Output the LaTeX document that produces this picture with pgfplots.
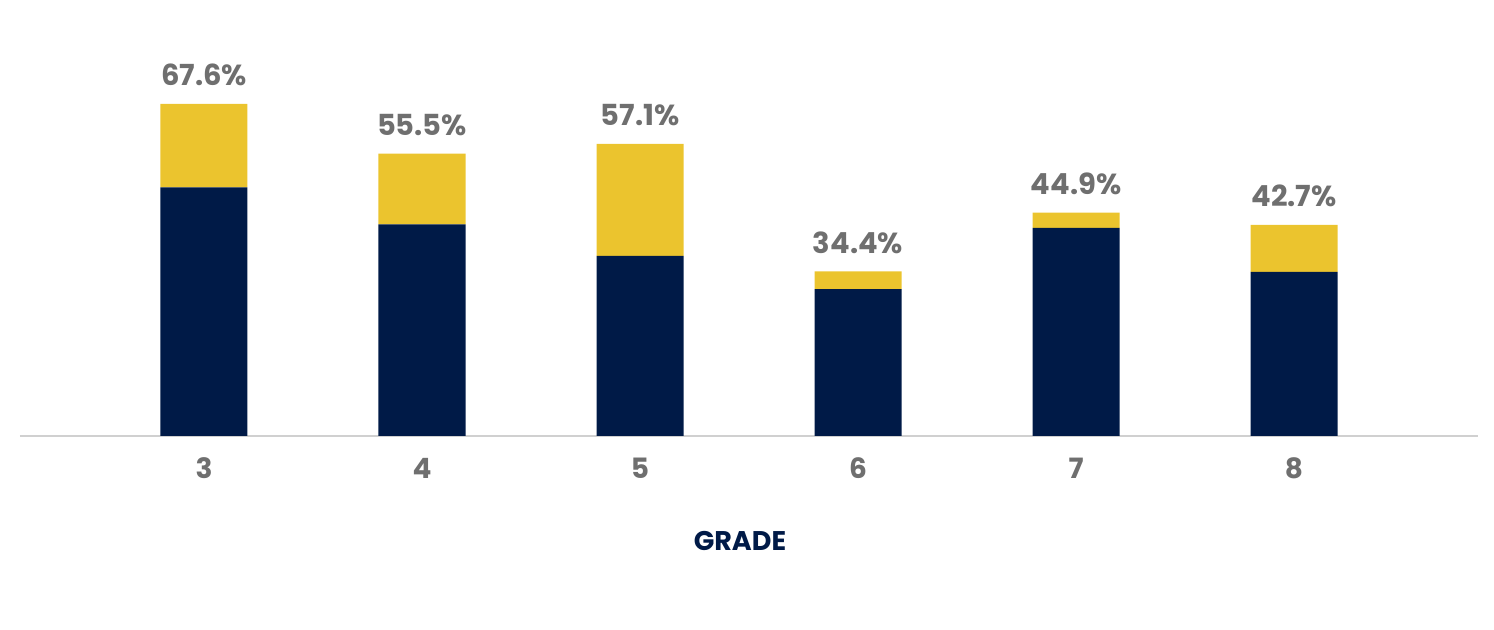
\documentclass[border=0pt]{standalone}
\usepackage{pgfplots}
\usepackage{pgfplotstable}
\pgfplotsset{compat=1.18}
\usepackage{fontspec}
\setmainfont{Poppins}
\definecolor{navy}{HTML}{001A47}
\definecolor{gold}{HTML}{EBC42E}
\definecolor{txtgray}{HTML}{6F6F6F}
\definecolor{axisgray}{HTML}{D0D0D0}
\pgfplotstableread{
x navy gold label
0 50.6 17.0 67.6
1 43.1 14.4 55.5
2 36.7 22.8 57.1
3 29.9 3.6 34.4
4 42.4 3.1 44.9
5 33.4 9.6 42.7
}\datatable
\begin{document}
\begin{tikzpicture}
\path[use as bounding box] (-10pt,-97pt) rectangle (737pt,218pt);
\begin{axis}[
  at={(0,0)}, anchor=south west,
  scale only axis, width=729pt, height=188pt,
  ybar stacked, bar width=43.5pt,
  xmin=-0.844, xmax=5.844, ymin=0, ymax=76.56,
  axis x line=bottom, axis y line=none,
  x axis line style={draw=axisgray, line width=0.75pt, -},
  xtick={0,1,2,3,4,5}, xticklabels={3,4,5,6,7,8},
  major tick length=0pt, ytick=\empty,
  xticklabel style={anchor=center, yshift=-16pt, text=txtgray, font=\bfseries\fontsize{14}{14}\selectfont},
  xlabel={GRADE},
  xlabel style={at={(axis description cs:0.4938,0)}, anchor=center, yshift=-52.5pt, text=navy, font=\bfseries\fontsize{13.5}{13.5}\selectfont},
  clip=false,
]
\addplot[fill=navy, draw=none] table[x=x, y=navy]{\datatable};
\addplot[fill=gold, draw=none, point meta=explicit symbolic,
  visualization depends on={\thisrow{gold} \as \goldh},
  nodes near coords={\pgfplotspointmeta\%},
  every node near coord/.append style={anchor=center, yshift=14.5pt+1.2278pt*\goldh, text=txtgray, font=\bfseries\fontsize{14.5}{14.5}\selectfont}]
  table[x=x, y=gold, meta=label]{\datatable};
\end{axis}
\end{tikzpicture}
\end{document}
